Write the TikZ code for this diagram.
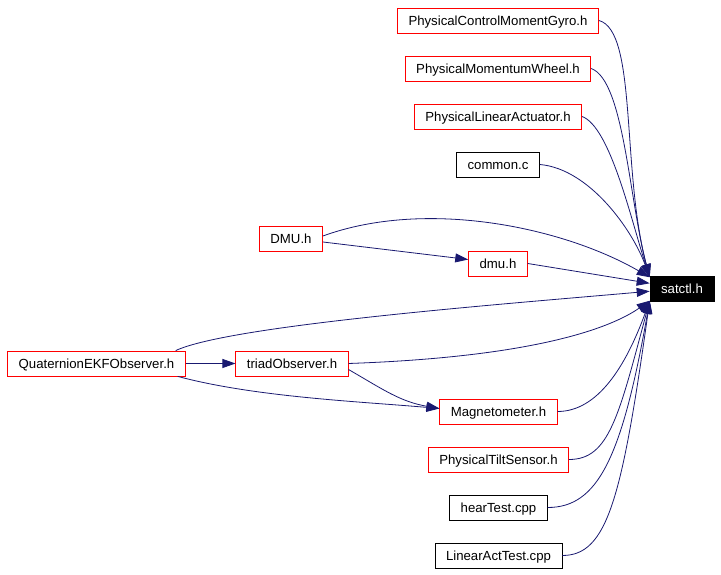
\documentclass[tikz,border=0pt]{standalone}
\usepackage{fontspec}
\setmainfont{Liberation Sans}
\usetikzlibrary{arrows.meta,positioning}
\definecolor{depblue}{RGB}{25,25,112}

\begin{document}
\begin{tikzpicture}[->, >={Triangle[length=13pt,width=9pt]}, x=1pt, y=1pt, node distance=48pt, font=\fontsize{13.2}{15}\selectfont]
    \tikzstyle{file}=[draw=black,line width=0.8pt,minimum height=25pt,inner xsep=11pt,inner ysep=0pt,text height=12pt,text depth=2pt,text=black]
    \tikzstyle{redfile}=[file,draw=red]
    \tikzstyle{dep}=[depblue,line width=0.8pt]

    \useasboundingbox (0,0) rectangle (721,575);

    \node[file,fill=black,text=white] (satctl) at (682,286) {satctl.h};

    \node[redfile] (PCMG) at (498,554.5)  {PhysicalControlMomentGyro.h};
    \node[redfile] (PMW)  [below of=PCMG] {PhysicalMomentumWheel.h};
    \node[redfile] (PLA)  [below of=PMW]  {PhysicalLinearActuator.h};
    \node[file]    (common) [below of=PLA] {common.c};

    \node[redfile] (DMU)  at (291,336)    {DMU.h};
    \node[redfile] (dmu)  at (498,311.5)  {dmu.h};

    \node[redfile] (Quat)  at (96.5,211.5) {QuaternionEKFObserver.h};
    \node[redfile] (triad) at (292,211.5)  {triadObserver.h};

    \node[redfile] (Mag)  at (498.5,163.5) {Magnetometer.h};
    \node[redfile] (Tilt) [below of=Mag]   {PhysicalTiltSensor.h};
    \node[file]    (hear) [below of=Tilt]  {hearTest.cpp};
    \node[file]    (LinTest) [below of=hear] {LinearActTest.cpp};

    \path[dep]
    (PCMG.east)   edge[dep,out=-15,in=105,out distance=40pt,in distance=110pt] (satctl.160)
    (PMW.east)    edge[dep,out=-20,in=105,out distance=35pt,in distance=80pt]  (satctl.160)
    (PLA.east)    edge[dep,out=-20,in=108,out distance=30pt,in distance=60pt]  (satctl.160)
    (common.east) edge[dep,out=-5,in=110,out distance=50pt,in distance=50pt]   (satctl.160)
    ([yshift=3pt]DMU.east) edge[dep,out=20,in=150,out distance=110pt,in distance=100pt] (satctl.160)
    ([yshift=-3pt]DMU.east) edge[dep] ([yshift=4pt]dmu.west)
    (dmu.east)    edge[dep]                                                     (satctl.170)
    ([xshift=-10pt]Quat.north east) edge[dep,out=25,in=185,out distance=60pt,in distance=150pt] (satctl.184)
    (Quat)        edge[dep]                                                     (triad)
    ([xshift=-8pt]Quat.south east) edge[dep,out=-15,in=175,out distance=80pt,in distance=80pt] ([yshift=3pt]Mag.west)
    (triad.east)  edge[dep,out=2,in=215,out distance=200pt,in distance=40pt]    (satctl.200)
    ([yshift=-6pt]triad.east) edge[dep,out=-30,in=170,out distance=40pt,in distance=40pt] ([yshift=3pt]Mag.west)
    (Mag.east)    edge[dep,out=0,in=250,out distance=40pt,in distance=70pt]     (satctl.200)
    (Tilt.east)   edge[dep,out=0,in=255,out distance=40pt,in distance=120pt]    (satctl.200)
    (hear.east)   edge[dep,out=0,in=260,out distance=50pt,in distance=160pt]    (satctl.200)
    (LinTest.east) edge[dep,out=0,in=262,out distance=45pt,in distance=200pt]   (satctl.200);

\end{tikzpicture}
\end{document}
